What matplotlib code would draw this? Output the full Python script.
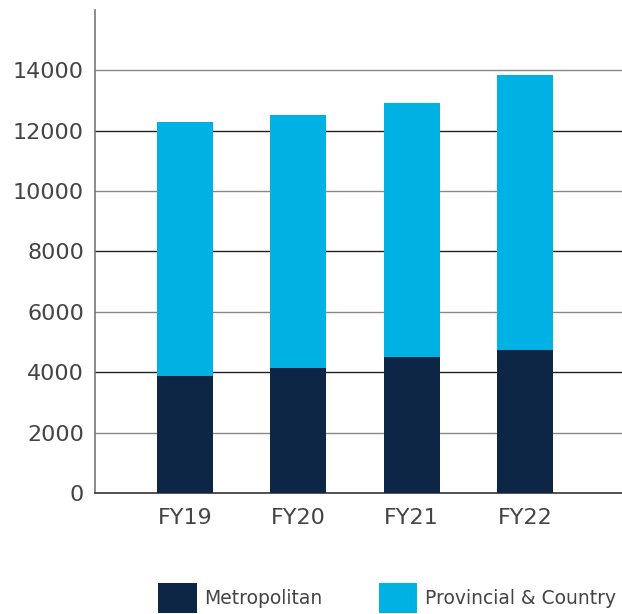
import matplotlib
matplotlib.use("Agg")
import matplotlib.pyplot as plt
from matplotlib.patches import Patch

categories = ["FY19", "FY20", "FY21", "FY22"]
metropolitan = [3870, 4140, 4500, 4730]
provincial = [8430, 8370, 8410, 9100]
yticks = [0, 2000, 4000, 6000, 8000, 10000, 12000, 14000]

dark = "#0e2646"
light = "#00b2e3"
txt = "#444444"

plt.rcParams['font.family'] = ['DejaVu Sans']

fig = plt.figure(figsize=(6.22, 6.14), dpi=100)
ax = fig.add_axes([0.153, 0.197, 0.847, 0.787])

x = list(range(len(categories)))
ax.bar(x, metropolitan, width=0.494, color=dark, zorder=3, label="Metropolitan")
ax.bar(x, provincial, width=0.494, bottom=metropolitan, color=light, zorder=3,
       label="Provincial & Country")

ax.set_xlim(-0.794, 3.856)
ax.set_ylim(0, 16000)
ax.set_yticks(yticks)
ax.set_xticks(x)
ax.set_xticklabels(categories)
ax.tick_params(axis='both', length=0, labelsize=16, colors=txt)
ax.tick_params(axis='y', pad=8)
ax.tick_params(axis='x', pad=11)

for i, t in enumerate(yticks[1:]):
    ax.axhline(t, color="#888888" if i % 2 == 0 else "#222222", lw=1.0, zorder=1)

for s in ["top", "right"]:
    ax.spines[s].set_visible(False)
ax.spines["left"].set_color("#777777")
ax.spines["left"].set_linewidth(1.2)
ax.spines["bottom"].set_color("#333333")
ax.spines["bottom"].set_linewidth(1.2)

handles = [Patch(facecolor=dark, label="Metropolitan"),
           Patch(facecolor=light, label="Provincial & Country")]
fig.legend(handles=handles, loc="lower center", bbox_to_anchor=(0.622, -0.026), ncol=2,
           frameon=False, fontsize=13.5, handlelength=2.05, handleheight=2.1,
           handletextpad=0.4, columnspacing=3.0, labelcolor=txt)

fig.savefig("out.png", dpi=100)
